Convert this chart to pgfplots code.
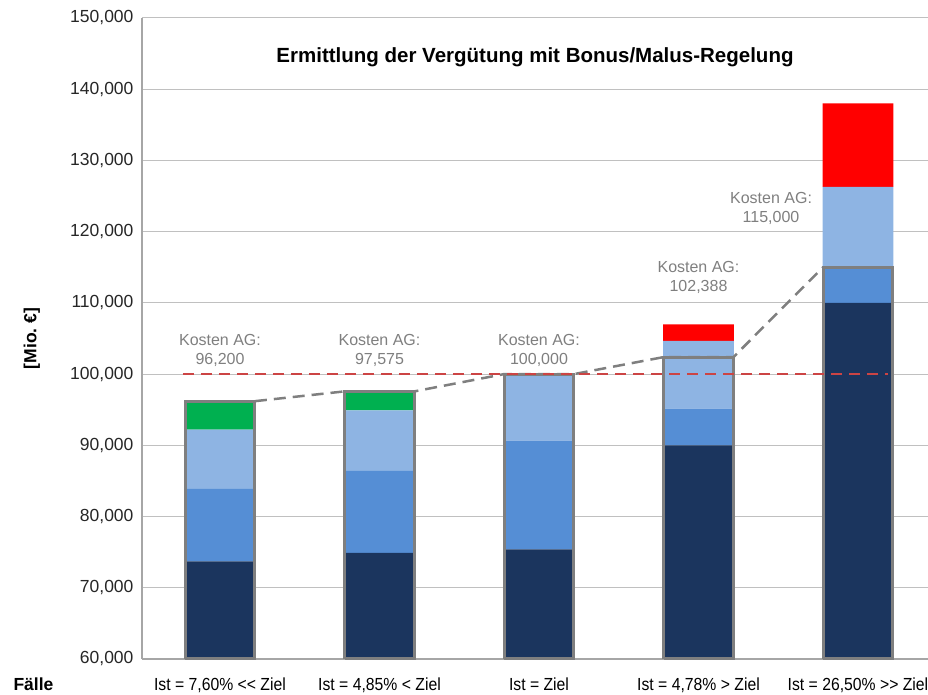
\documentclass[border=0pt]{standalone}
\usepackage{pgfplots}
\pgfplotsset{compat=1.18}
\usepackage{fontspec}
\setmainfont{Liberation Sans}
\newfontfamily\narrowfont[FakeStretch=0.9]{Liberation Sans}
\definecolor{navy}{HTML}{1B355E}
\definecolor{medblue}{HTML}{558ED5}
\definecolor{lightblue}{HTML}{8EB4E3}
\definecolor{bonusgreen}{HTML}{00B050}
\definecolor{malusred}{HTML}{FF0000}
\definecolor{boxgray}{HTML}{7F7F7F}
\definecolor{gridgray}{HTML}{C0C0C0}
\definecolor{axisgray}{HTML}{A6A6A6}
\definecolor{refred}{HTML}{CC4444}
\definecolor{textgray}{HTML}{7F7F7F}
\begin{document}
\begin{tikzpicture}
\path[use as bounding box] (0pt,0pt) rectangle (928pt,695pt);
\pgfplotsset{common/.style={at={(142pt,36pt)}, anchor=south west, scale only axis,
  width=786pt, height=641pt, xmin=-0.489, xmax=4.439, ymin=60000, ymax=150000}}
\begin{axis}[common,
  ybar stacked, bar width=0.445,
  axis x line*=bottom, axis y line*=left,
  axis line style={draw=axisgray, line width=1.2pt},
  ymajorgrids, major grid style={draw=gridgray, line width=1pt},
  major tick length=0pt, tick style={draw=none},
  ytick={60000,70000,80000,90000,100000,110000,120000,130000,140000,150000},
  yticklabels={{60,000},{70,000},{80,000},{90,000},{100,000},{110,000},{120,000},{130,000},{140,000},{150,000}},
  scaled y ticks=false,
  yticklabel style={font=\fontsize{17.5}{20}\selectfont, text=black!85, xshift=-5pt},
  xtick={0,1,2,3,4},
  xticklabels={{Ist = 7,60\% <\kern0pt< Ziel},{Ist = 4,85\% < Ziel},{Ist = Ziel},{Ist = 4,78\% > Ziel},{Ist = 26,50\% >\kern0pt> Ziel}},
  xticklabel style={font=\narrowfont\fontsize{17.5}{20}\selectfont, text=black, yshift=-15pt},
  ylabel={[Mio.\ €]},
  ylabel style={font=\bfseries\fontsize{17.5}{20}\selectfont, at={(axis description cs:-0.14,0.5)}, anchor=center},
]
\addplot[fill=navy, draw=none] coordinates {(0,73700) (1,74900) (2,75400) (3,90000) (4,110000)};
\addplot[fill=medblue, draw=none] coordinates {(0,10200) (1,11500) (2,15250) (3,5150) (4,5000)};
\addplot[fill=lightblue, draw=none] coordinates {(0,8300) (1,8500) (2,9350) (3,9500) (4,11300)};
\addplot[fill=bonusgreen, draw=none] coordinates {(0,4000) (1,2675) (2,0) (3,0) (4,0)};
\addplot[fill=malusred, draw=none] coordinates {(0,0) (1,0) (2,0) (3,2350) (4,11700)};
\end{axis}
\begin{axis}[common, hide axis, clip=false]
% connector between the cost boxes
\addplot[boxgray, line width=2.5pt, dash pattern=on 12pt off 7pt] coordinates {(0.219,96200) (0.781,97575) (1.219,97575) (1.781,100000) (2.219,100000) (2.781,102388) (3.219,102388) (3.781,115000)};
% cost boxes (Kosten AG)
\addplot[boxgray, line width=3pt, line join=miter] coordinates {(-0.219,60000) (-0.219,96200) (0.219,96200) (0.219,60000) (-0.219,60000)};
\addplot[boxgray, line width=3pt, line join=miter] coordinates {(0.781,60000) (0.781,97575) (1.219,97575) (1.219,60000) (0.781,60000)};
\addplot[boxgray, line width=3pt, line join=miter] coordinates {(1.781,60000) (1.781,100000) (2.219,100000) (2.219,60000) (1.781,60000)};
\addplot[boxgray, line width=3pt, line join=miter] coordinates {(2.781,60000) (2.781,102388) (3.219,102388) (3.219,60000) (2.781,60000)};
\addplot[boxgray, line width=3pt, line join=miter] coordinates {(3.781,60000) (3.781,115000) (4.219,115000) (4.219,60000) (3.781,60000)};
% target line
\addplot[refred, line width=2pt, dash pattern=on 11pt off 7pt] coordinates {(-0.232,100000) (4.19,100000)};
% annotations
\tikzset{kost/.style={font=\fontsize{16}{19}\selectfont, text=textgray, align=center, anchor=center}}
\node[kost] at (axis cs:0,103300) {Kosten AG:\\96,200};
\node[kost] at (axis cs:1,103300) {Kosten AG:\\97,575};
\node[kost] at (axis cs:2,103300) {Kosten AG:\\100,000};
\node[kost] at (axis cs:3,113600) {Kosten AG:\\102,388};
\node[kost] at (axis cs:3.455,123300) {Kosten AG:\\115,000};
\node[font=\bfseries\fontsize{20.5}{23}\selectfont, anchor=base] at (axis cs:1.975,143800) {Ermittlung der Vergütung mit Bonus/Malus-Regelung};
\end{axis}
\node[font=\bfseries\fontsize{17.5}{20}\selectfont, anchor=base west] at (10pt,4pt) {Fälle};
\end{tikzpicture}
\end{document}
